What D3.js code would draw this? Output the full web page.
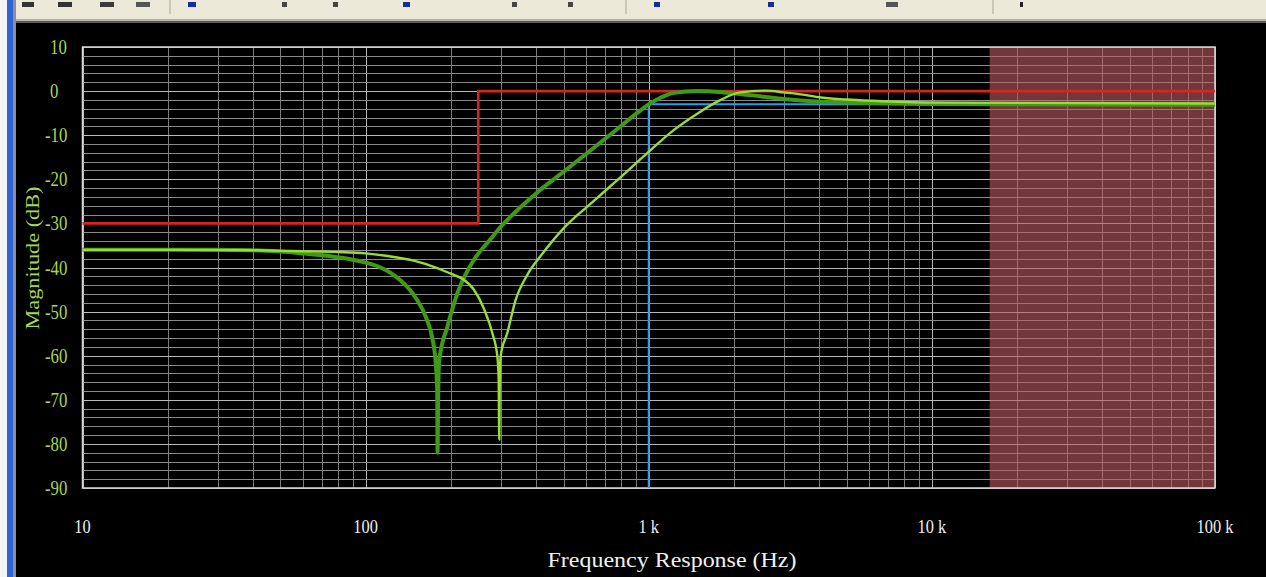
<!DOCTYPE html>
<html>
<head>
<meta charset="utf-8">
<script src="https://cdn.jsdelivr.net/npm/d3@7"></script>
<style>
  html, body { margin: 0; padding: 0; background: #000; overflow: hidden; }
  svg { display: block; }
</style>
</head>
<body>
<svg id="chart" width="1266" height="577"></svg>
<script>
// ---- Data: filter magnitude response -------------------------------------

// Axis ticks
const xTickValues = [10, 100, 1000, 10000, 100000];
const xTickLabels = ["10", "100", "1 k", "10 k", "100 k"];
const yTickValues = [10, 0, -10, -20, -30, -40, -50, -60, -70, -80, -90];

// Response A (darker, heavier trace): frequency in Hz, magnitude in dB
const respAFreq = [10, 20, 30, 40, 50, 60, 78, 100, 113, 131, 150, 165, 172, 177, 179, 179.5,
  180.5, 182, 194.5, 211, 241, 277, 298, 350, 400, 500, 624, 774, 900, 1000, 1100, 1228, 1492,
  1844, 2500, 3000, 4000, 5000, 10000, 100000];
const respADb = [-36.0, -36.0, -36.0, -36.1, -36.4, -36.8, -37.6, -38.9, -40.0, -42.6, -46.8,
  -52.0, -56.0, -62.0, -68.0, -82.0, -68.0, -61.0, -53.4, -45.8, -38.3, -33.5, -31.0, -26.5,
  -23.2, -18.3, -13.4, -8.6, -5.2, -3.0, -1.5, -0.4, 0.0, -0.3, -1.2, -1.8, -2.4, -2.6, -2.9,
  -3.1];

// Response B (lighter trace)
const respBFreq = [10, 20, 40, 60, 80, 100, 120, 149, 175, 200, 220, 241, 262, 280, 292, 295,
  296.5, 297.5, 300, 316, 339, 373, 415, 502, 624, 774, 990, 1228, 1493, 1795, 2100, 2600,
  3000, 3600, 4000, 5000, 6200, 10000, 100000];
const respBDb = [-36.0, -36.0, -36.1, -36.3, -36.5, -36.8, -37.4, -38.5, -39.9, -41.4, -42.6,
  -45.0, -49.4, -54.8, -60.2, -65.0, -79.0, -68.0, -60.0, -55.0, -47.3, -41.6, -37.4, -31.0,
  -25.5, -20.2, -14.0, -8.8, -5.0, -2.0, -0.3, 0.1, -0.3, -0.9, -1.4, -1.9, -2.2, -2.6, -2.8];

// Design limit (step mask)
const limitFreq = [10, 250, 250, 100000];
const limitDb = [-30, -30, 0, 0];

// Cutoff marker (-3 dB at 1 kHz)
const cutoffFreq = [1000, 1000, 100000];
const cutoffDb = [-90, -3, -3];

// Shaded band (upper frequency range)
const bandFreq = [16000, 100000];

// ---- Layout -----------------------------------------------------------------
const W = 1266, H = 577;
const plot = { left: 82.5, right: 1215, top: 47, bottom: 488 };

const svg = d3.select("#chart");

// window chrome: toolbar strip and left frame
svg.append("rect").attr("x", 0).attr("y", 0).attr("width", W).attr("height", H).attr("fill", "#000");
svg.append("rect").attr("x", 0).attr("y", 0).attr("width", W).attr("height", 19).attr("fill", "#ece9d8");
svg.append("rect").attr("x", 0).attr("y", 19).attr("width", W).attr("height", 2).attr("fill", "#b5b2a0");
svg.append("rect").attr("x", 0).attr("y", 21).attr("width", W).attr("height", 2).attr("fill", "#5c5c58");
svg.append("rect").attr("x", 0).attr("y", 0).attr("width", 7).attr("height", H).attr("fill", "#f4f4f4");
svg.append("rect").attr("x", 7).attr("y", 0).attr("width", 6).attr("height", H).attr("fill", "#2f62d8");
svg.append("rect").attr("x", 13).attr("y", 0).attr("width", 3).attr("height", H).attr("fill", "#8a8f9a");

// toolbar buttons (partially visible)
const toolIcons = [
  { x: 22, w: 12, c: "#333" }, { x: 58, w: 14, c: "#333" }, { x: 100, w: 14, c: "#3a3a3a" },
  { x: 136, w: 14, c: "#555" }, { x: 188, w: 8, c: "#1a2aa0" }, { x: 282, w: 5, c: "#444" },
  { x: 333, w: 5, c: "#444" }, { x: 403, w: 7, c: "#1a2aa0" }, { x: 512, w: 5, c: "#444" },
  { x: 568, w: 5, c: "#444" }, { x: 654, w: 6, c: "#1a2aa0" }, { x: 768, w: 6, c: "#1a2aa0" },
  { x: 886, w: 12, c: "#555" }, { x: 1020, w: 3, c: "#222" }
];
svg.append("g").selectAll("rect").data(toolIcons).join("rect")
  .attr("x", d => d.x).attr("y", 2).attr("width", d => d.w).attr("height", 5)
  .attr("fill", d => d.c);
const toolSeps = [170, 626, 993];
svg.append("g").selectAll("line").data(toolSeps).join("line")
  .attr("x1", d => d).attr("x2", d => d).attr("y1", 0).attr("y2", 14)
  .attr("stroke", "#a8a698").attr("stroke-width", 1);

// ---- Scales -----------------------------------------------------------------
const x = d3.scaleLog().domain([10, 100000]).range([plot.left, plot.right]);
const y = d3.scaleLinear().domain([-90, 10]).range([plot.bottom, plot.top]);

// ---- Grid -------------------------------------------------------------------
const grid = svg.append("g");
const minorX = x.ticks().filter(v => !xTickValues.includes(v));
grid.selectAll("line.vminor").data(minorX).join("line")
  .attr("x1", d => Math.round(x(d)) + 0.5).attr("x2", d => Math.round(x(d)) + 0.5)
  .attr("y1", plot.top).attr("y2", plot.bottom)
  .attr("stroke", "#7c7c7c").attr("stroke-width", 1);
grid.selectAll("line.vmajor").data(xTickValues).join("line")
  .attr("x1", d => Math.round(x(d)) + 0.5).attr("x2", d => Math.round(x(d)) + 0.5)
  .attr("y1", plot.top).attr("y2", plot.bottom)
  .attr("stroke", "#b4b4b4").attr("stroke-width", 1);

const hLines = d3.range(-90, 10.001, 2);
grid.selectAll("line.h").data(hLines).join("line")
  .attr("x1", plot.left).attr("x2", plot.right)
  .attr("y1", d => Math.round(y(d)) + 0.5).attr("y2", d => Math.round(y(d)) + 0.5)
  .attr("stroke", d => (d % 10 === 0 ? "#b8b8b8" : "#8a8a8a")).attr("stroke-width", 1);

// shaded band
svg.append("rect")
  .attr("x", x(bandFreq[0])).attr("y", plot.top)
  .attr("width", x(bandFreq[1]) - x(bandFreq[0])).attr("height", plot.bottom - plot.top)
  .attr("fill", "rgb(190,92,96)").attr("fill-opacity", 0.6);

// plot frame
svg.append("rect")
  .attr("x", plot.left).attr("y", plot.top)
  .attr("width", plot.right - plot.left).attr("height", plot.bottom - plot.top)
  .attr("fill", "none").attr("stroke", "#d8d8d8").attr("stroke-width", 1.5);

// ---- Traces -----------------------------------------------------------------
const stepLine = d3.line().x(d => x(d[0])).y(d => y(d[1]));
const smoothLine = d3.line().x(d => x(d[0])).y(d => y(d[1])).curve(d3.curveMonotoneX);

svg.append("path").datum(d3.zip(limitFreq, limitDb))
  .attr("d", stepLine).attr("fill", "none")
  .attr("stroke", "#d42424").attr("stroke-width", 2.6);

svg.append("path").datum(d3.zip(cutoffFreq, cutoffDb))
  .attr("d", stepLine).attr("fill", "none")
  .attr("stroke", "#2c9ce8").attr("stroke-width", 2);

svg.append("path").datum(d3.zip(respAFreq, respADb))
  .attr("d", smoothLine).attr("fill", "none")
  .attr("stroke", "#3f9a16").attr("stroke-width", 4).attr("stroke-linejoin", "round");

svg.append("path").datum(d3.zip(respBFreq, respBDb))
  .attr("d", smoothLine).attr("fill", "none")
  .attr("stroke", "#98dc3a").attr("stroke-width", 2.4).attr("stroke-linejoin", "round");

// ---- Axis labels ------------------------------------------------------------
const serif = "'Liberation Serif', 'DejaVu Serif', serif";

// narrow the glyphs a little so the labels read like a condensed screen font
function condense(sel, factor) {
  sel.each(function () {
    const w = this.getComputedTextLength();
    d3.select(this).attr("textLength", w * factor).attr("lengthAdjust", "spacingAndGlyphs");
  });
}

const yLabels = svg.append("g").selectAll("text").data(yTickValues).join("text")
  .attr("x", d => (d < 0 ? 45 : 50)).attr("y", d => y(d) + 7)
  .attr("font-family", serif).attr("font-size", 20)
  .attr("fill", "#a6d65a")
  .text(d => String(d));
condense(yLabels, 0.84);

const xLabels = svg.append("g").selectAll("text").data(xTickValues).join("text")
  .attr("x", d => x(d)).attr("y", 533)
  .attr("text-anchor", "middle")
  .attr("font-family", serif).attr("font-size", 19)
  .attr("fill", "#f0f0f0")
  .text((d, i) => xTickLabels[i]);
condense(xLabels, 0.86);

svg.append("text")
  .attr("x", 672).attr("y", 567)
  .attr("text-anchor", "middle")
  .attr("font-family", serif).attr("font-size", 22)
  .attr("fill", "#f0f0f0")
  .attr("textLength", 249).attr("lengthAdjust", "spacingAndGlyphs")
  .text("Frequency Response (Hz)");

svg.append("text")
  .attr("transform", "translate(39,258) rotate(-90)")
  .attr("text-anchor", "middle")
  .attr("font-family", serif).attr("font-size", 18)
  .attr("fill", "#a6d65a")
  .attr("textLength", 143).attr("lengthAdjust", "spacingAndGlyphs")
  .text("Magnitude (dB)");
</script>
</body>
</html>
